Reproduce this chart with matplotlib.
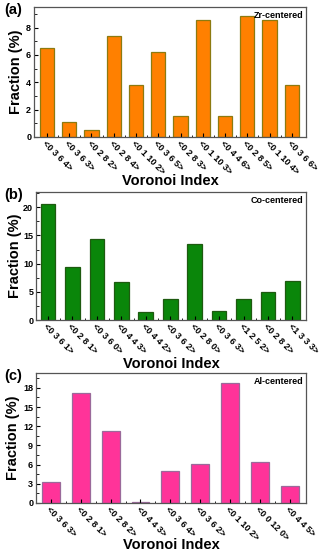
import numpy as np
import matplotlib
matplotlib.use('Agg')
import matplotlib.pyplot as plt
from matplotlib.ticker import MultipleLocator

plt.rcParams['font.family'] = ['Liberation Sans', 'DejaVu Sans']
plt.rcParams['font.weight'] = 'bold'

# panel (a) Zr-centered
zr_labels = ['<0 3 6 4>', '<0 3 6 3>', '<0 2 8 2>', '<0 2 8 4>', '<0 1 10 2>', '<0 3 6 5>',
             '<0 2 8 3>', '<0 1 10 3>', '<0 4 4 6>', '<0 2 8 5>', '<0 1 10 4>', '<0 3 6 6>']
zr_values = [6.5, 1.1, 0.5, 7.4, 3.8, 6.25, 1.55, 8.55, 1.55, 8.85, 8.55, 3.8]

# panel (b) Co-centered
co_labels = ['<0 3 6 1>', '<0 2 8 1>', '<0 3 6 0>', '<0 4 4 3>', '<0 4 4 2>', '<0 3 6 2>',
             '<0 2 8 0>', '<0 3 6 3>', '<1 2 5 2>', '<0 2 8 2>', '<1 3 3 3>']
co_values = [20.5, 9.4, 14.4, 6.7, 1.4, 3.65, 13.4, 1.7, 3.8, 4.9, 6.9]

# panel (c) Al-centered
al_labels = ['<0 3 6 3>', '<0 2 8 1>', '<0 2 8 2>', '<0 4 4 3>', '<0 3 6 4>', '<0 3 6 2>',
             '<0 1 10 2>', '<0 0 12 0>', '<0 4 4 5>']
al_values = [3.35, 17.2, 11.3, 0.2, 5.05, 6.05, 18.8, 6.45, 2.7]

fig = plt.figure(figsize=(3.21, 5.5), dpi=100)


def panel(rect, labels, values, color, edge, ymax, ystep, yminor, xlim, width, tag, name,
          xlab_y, ylab_x):
    ax = fig.add_axes(rect)
    x = np.arange(len(values))
    ax.bar(x, values, width=width, color=color, edgecolor=edge, linewidth=0.9)
    ax.set_xlim(*xlim)
    ax.set_ylim(0, ymax)
    ax.set_xticks(x)
    ax.set_xticks(x[:-1] + 0.5, minor=True)
    ax.set_xticklabels(labels, rotation=-45, ha='left', va='top', rotation_mode='anchor',
                       fontsize=5.9, fontweight='bold')
    ax.yaxis.set_major_locator(MultipleLocator(ystep))
    ax.yaxis.set_minor_locator(MultipleLocator(yminor))
    ax.tick_params(direction='in', which='major', length=3, width=0.8, labelsize=6.5, pad=2)
    ax.tick_params(direction='in', which='minor', length=1.8, width=0.6)
    ax.tick_params(axis='x', which='major', pad=1.5)
    for lab in ax.get_yticklabels():
        lab.set_fontweight('bold')
    for s in ax.spines.values():
        s.set_color('#555555')
        s.set_linewidth(0.9)
    ax.set_ylabel('Fraction (%)', fontsize=10.5, fontweight='bold')
    ax.yaxis.set_label_coords(ylab_x, 0.5)
    ax.set_xlabel('Voronoi Index', fontsize=10.5, fontweight='bold')
    ax.xaxis.set_label_coords(0.5, xlab_y)
    ax.xaxis.label.set_va('center')
    ax.text(0.99, 0.97, name, transform=ax.transAxes, ha='right', va='top',
            fontsize=6.5, fontweight='bold')
    fig.text(0.012, rect[1] + rect[3] - 0.005, tag, fontsize=10.5, fontweight='bold',
             ha='left', va='center')
    return ax


panel([0.106, 0.751, 0.847, 0.236], zr_labels, zr_values, '#FF8000', '#8C7A10',
      9.5, 2, 1, (-0.58, 11.63), 0.64, '(a)', 'Zr-centered', -0.34, -0.042)
panel([0.112, 0.418, 0.841, 0.233], co_labels, co_values, '#0A860A', '#1E5A10',
      22.7, 5, 2.5, (-0.49, 10.55), 0.6, '(b)', 'Co-centered', -0.34, -0.052)
panel([0.112, 0.0855, 0.841, 0.236], al_labels, al_values, '#FF3399', '#9A6A9A',
      20.3, 3, 1.5, (-0.5, 8.54), 0.6, '(c)', 'Al-centered', -0.32, -0.058)

fig.savefig('out.png', dpi=100)
